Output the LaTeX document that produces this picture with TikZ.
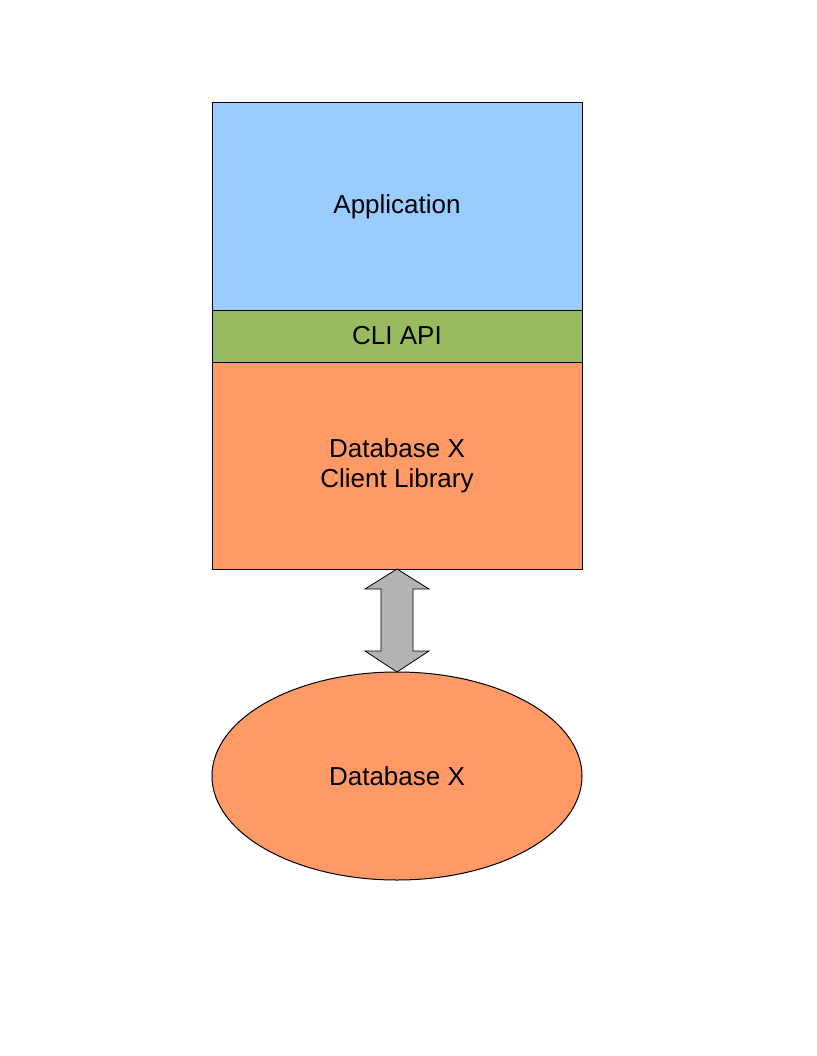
\documentclass[tikz,border=0pt]{standalone}
\usepackage{fontspec}
\setmainfont{Liberation Sans}
\usetikzlibrary{positioning,shapes.geometric}
\definecolor{appblue}{HTML}{99CCFF}
\definecolor{apigreen}{HTML}{99BB5F}
\definecolor{dborange}{HTML}{FF9966}
\definecolor{arrowgray}{HTML}{B3B3B3}
\begin{document}
	\begin{tikzpicture}
		[x=1pt,y=-1pt,
		layer/.style={draw,line width=1pt,minimum width=370pt,
			inner sep=0pt,outer sep=0pt,align=center,
			font=\fontsize{26}{30}\selectfont},
		blockarrow/.style={draw,line width=0.8pt,fill=arrowgray}
		]
		\useasboundingbox (0,0) rectangle (816,1056);
		\node[layer,fill=appblue,minimum height=207pt,anchor=north west]
			(app) at (212,103) {Application};
		\node[layer,fill=apigreen,minimum height=52pt,below=0pt of app]
			(api) {CLI API};
		\node[layer,fill=dborange,minimum height=207pt,below=0pt of api]
			(lib) {Database X\\Client Library};
		\node[layer,ellipse,fill=dborange,minimum width=370pt,
			minimum height=208pt,anchor=north]
			(db) at ([yshift=-103pt]lib.south) {Database X};
		\draw[blockarrow] (lib.south) -- ++(32,20) -- ++(-16,0) -- ++(0,62)
			-- ++(16,0) -- (db.north) -- ++(-32,-21) -- ++(16,0)
			-- ++(0,-62) -- ++(-16,0) -- cycle;
	\end{tikzpicture}
\end{document}
